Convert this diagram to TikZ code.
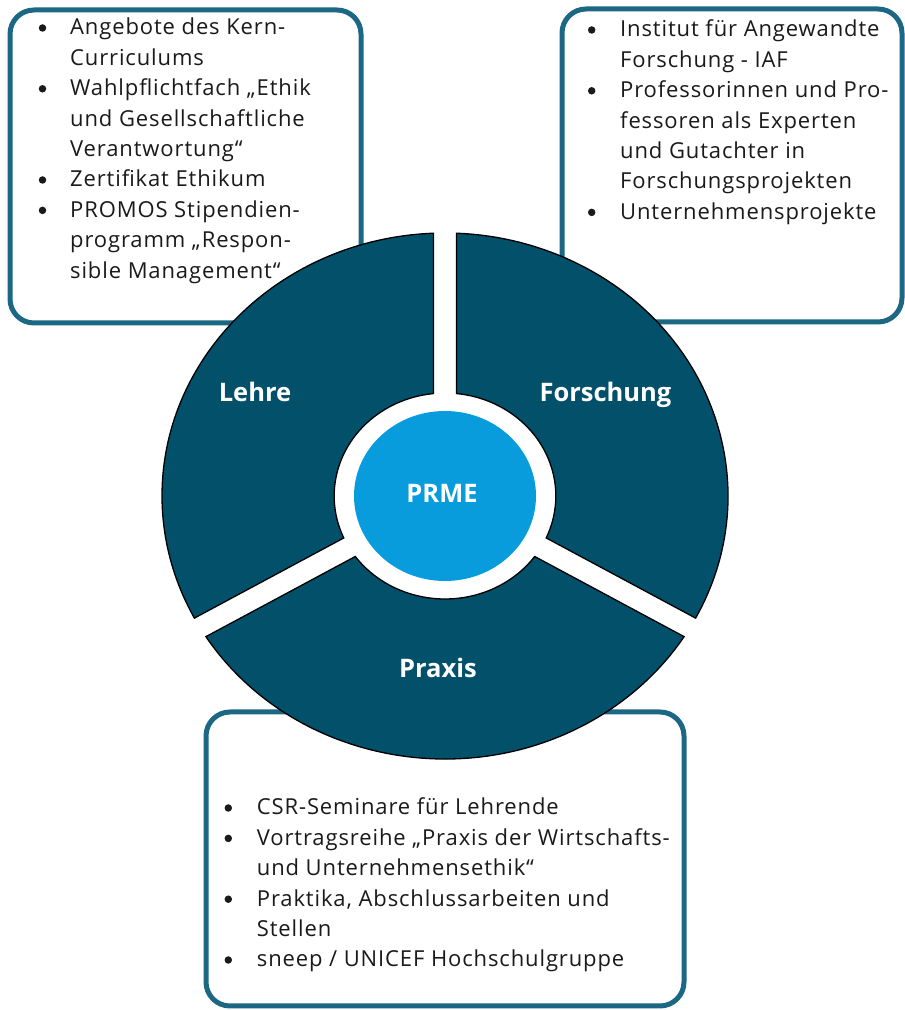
\documentclass[tikz,border=0pt]{standalone}
\usepackage{fontspec}
\setmainfont{Open Sans}
\newfontfamily\bodyfont[LetterSpace=4]{Open Sans}
\definecolor{ringc}{HTML}{03506B}
\definecolor{boxc}{HTML}{1B6784}
\definecolor{prmec}{HTML}{089CDC}
\definecolor{txtc}{HTML}{1A1A1A}
\begin{document}
\begin{tikzpicture}[x=1pt,y=1pt,
  infobox/.style={draw=boxc, line width=5pt, rounded corners=24pt, fill=white},
  seg/.style={fill=ringc, draw=black, line width=1.3pt},
  item/.style={anchor=base west, inner sep=0pt, text=txtc, font=\bodyfont\fontsize{22}{26}\selectfont},
  bul/.style={circle, fill=txtc, inner sep=0pt, minimum size=7.5pt, yshift=7pt},
  lab/.style={anchor=base, inner sep=0pt, text=white, font=\bfseries\fontsize{25.5}{30}\selectfont}]
\useasboundingbox (0,0) rectangle (905,1010);

% boxes
\draw[infobox] (10,1000) rectangle (361,687);
\draw[infobox] (562,1001) rectangle (902,688);
\draw[infobox] (206,298) rectangle (684,4);

% ring
\begin{scope}[shift={(445,514)}, xscale=1.076]
  \draw[seg] (-27.67:263pt) arc[start angle=-27.67, end angle=87.67, radius=263pt]
    -- (84.04:103pt) arc[start angle=84.04, end angle=-24.04, radius=103pt] -- cycle;
  \draw[seg] (92.33:263pt) arc[start angle=92.33, end angle=207.67, radius=263pt]
    -- (204.04:103pt) arc[start angle=204.04, end angle=95.96, radius=103pt] -- cycle;
  \draw[seg] (212.33:263pt) arc[start angle=212.33, end angle=327.67, radius=263pt]
    -- (324.04:103pt) arc[start angle=324.04, end angle=215.96, radius=103pt] -- cycle;
\end{scope}
\fill[prmec] (445,514) ellipse [x radius=91pt, y radius=85pt];

% labels
\node[lab] (lehre) at (255,608) {Lehre};
\node[lab] (forschung) at (605.5,608) {Forschung};
\node[lab] (prme) at (442,507) {PRME};
\node[lab] (praxis) at (438,332) {Praxis};

% left box
\node[bul] (lb1) at (42.5,975) {};
\node[item] (l1) at (70,975) {Angebote des Kern-};
\node[item] (l2) at (70,944.6) {Curriculums};
\node[bul] (lb2) at (42.5,914.2) {};
\node[item] (l3) at (70,914.2) {Wahlpflichtfach „Ethik};
\node[item] (l4) at (70,883.8) {und Gesellschaftliche};
\node[item] (l5) at (70,853.4) {Verantwortung“};
\node[bul] (lb3) at (42.5,823) {};
\node[item] (l6) at (70,823) {Zertifikat Ethikum};
\node[bul] (lb4) at (42.5,792.6) {};
\node[item] (l7) at (70,792.6) {PROMOS Stipendien-};
\node[item] (l8) at (70,762.2) {programm „Respon-};
\node[item] (l9) at (70,731.8) {sible Management“};

% right box
\node[bul] (rb1) at (591.7,973) {};
\node[item] (r1) at (620,973) {Institut für Angewandte};
\node[item] (r2) at (620,942.6) {Forschung - IAF};
\node[bul] (rb2) at (591.7,912.2) {};
\node[item] (r3) at (620,912.2) {Professorinnen und Pro-};
\node[item] (r4) at (620,881.8) {fessoren als Experten};
\node[item] (r5) at (620,851.4) {und Gutachter in};
\node[item] (r6) at (620,821) {Forschungsprojekten};
\node[bul] (rb3) at (591.7,790.6) {};
\node[item] (r7) at (620,790.6) {Unternehmensprojekte};

% bottom box
\node[bul] (bb1) at (228.3,195) {};
\node[item] (b1) at (256.7,195) {CSR-Seminare für Lehrende};
\node[bul] (bb2) at (228.3,164.6) {};
\node[item] (b2) at (256.7,164.6) {Vortragsreihe „Praxis der Wirtschafts-};
\node[item] (b3) at (256.7,134.2) {und Unternehmensethik“};
\node[bul] (bb3) at (228.3,103.8) {};
\node[item] (b4) at (256.7,103.8) {Praktika, Abschlussarbeiten und};
\node[item] (b5) at (256.7,73.4) {Stellen};
\node[bul] (bb4) at (228.3,43) {};
\node[item] (b6) at (256.7,43) {sneep / UNICEF Hochschulgruppe};
\end{tikzpicture}
\end{document}
